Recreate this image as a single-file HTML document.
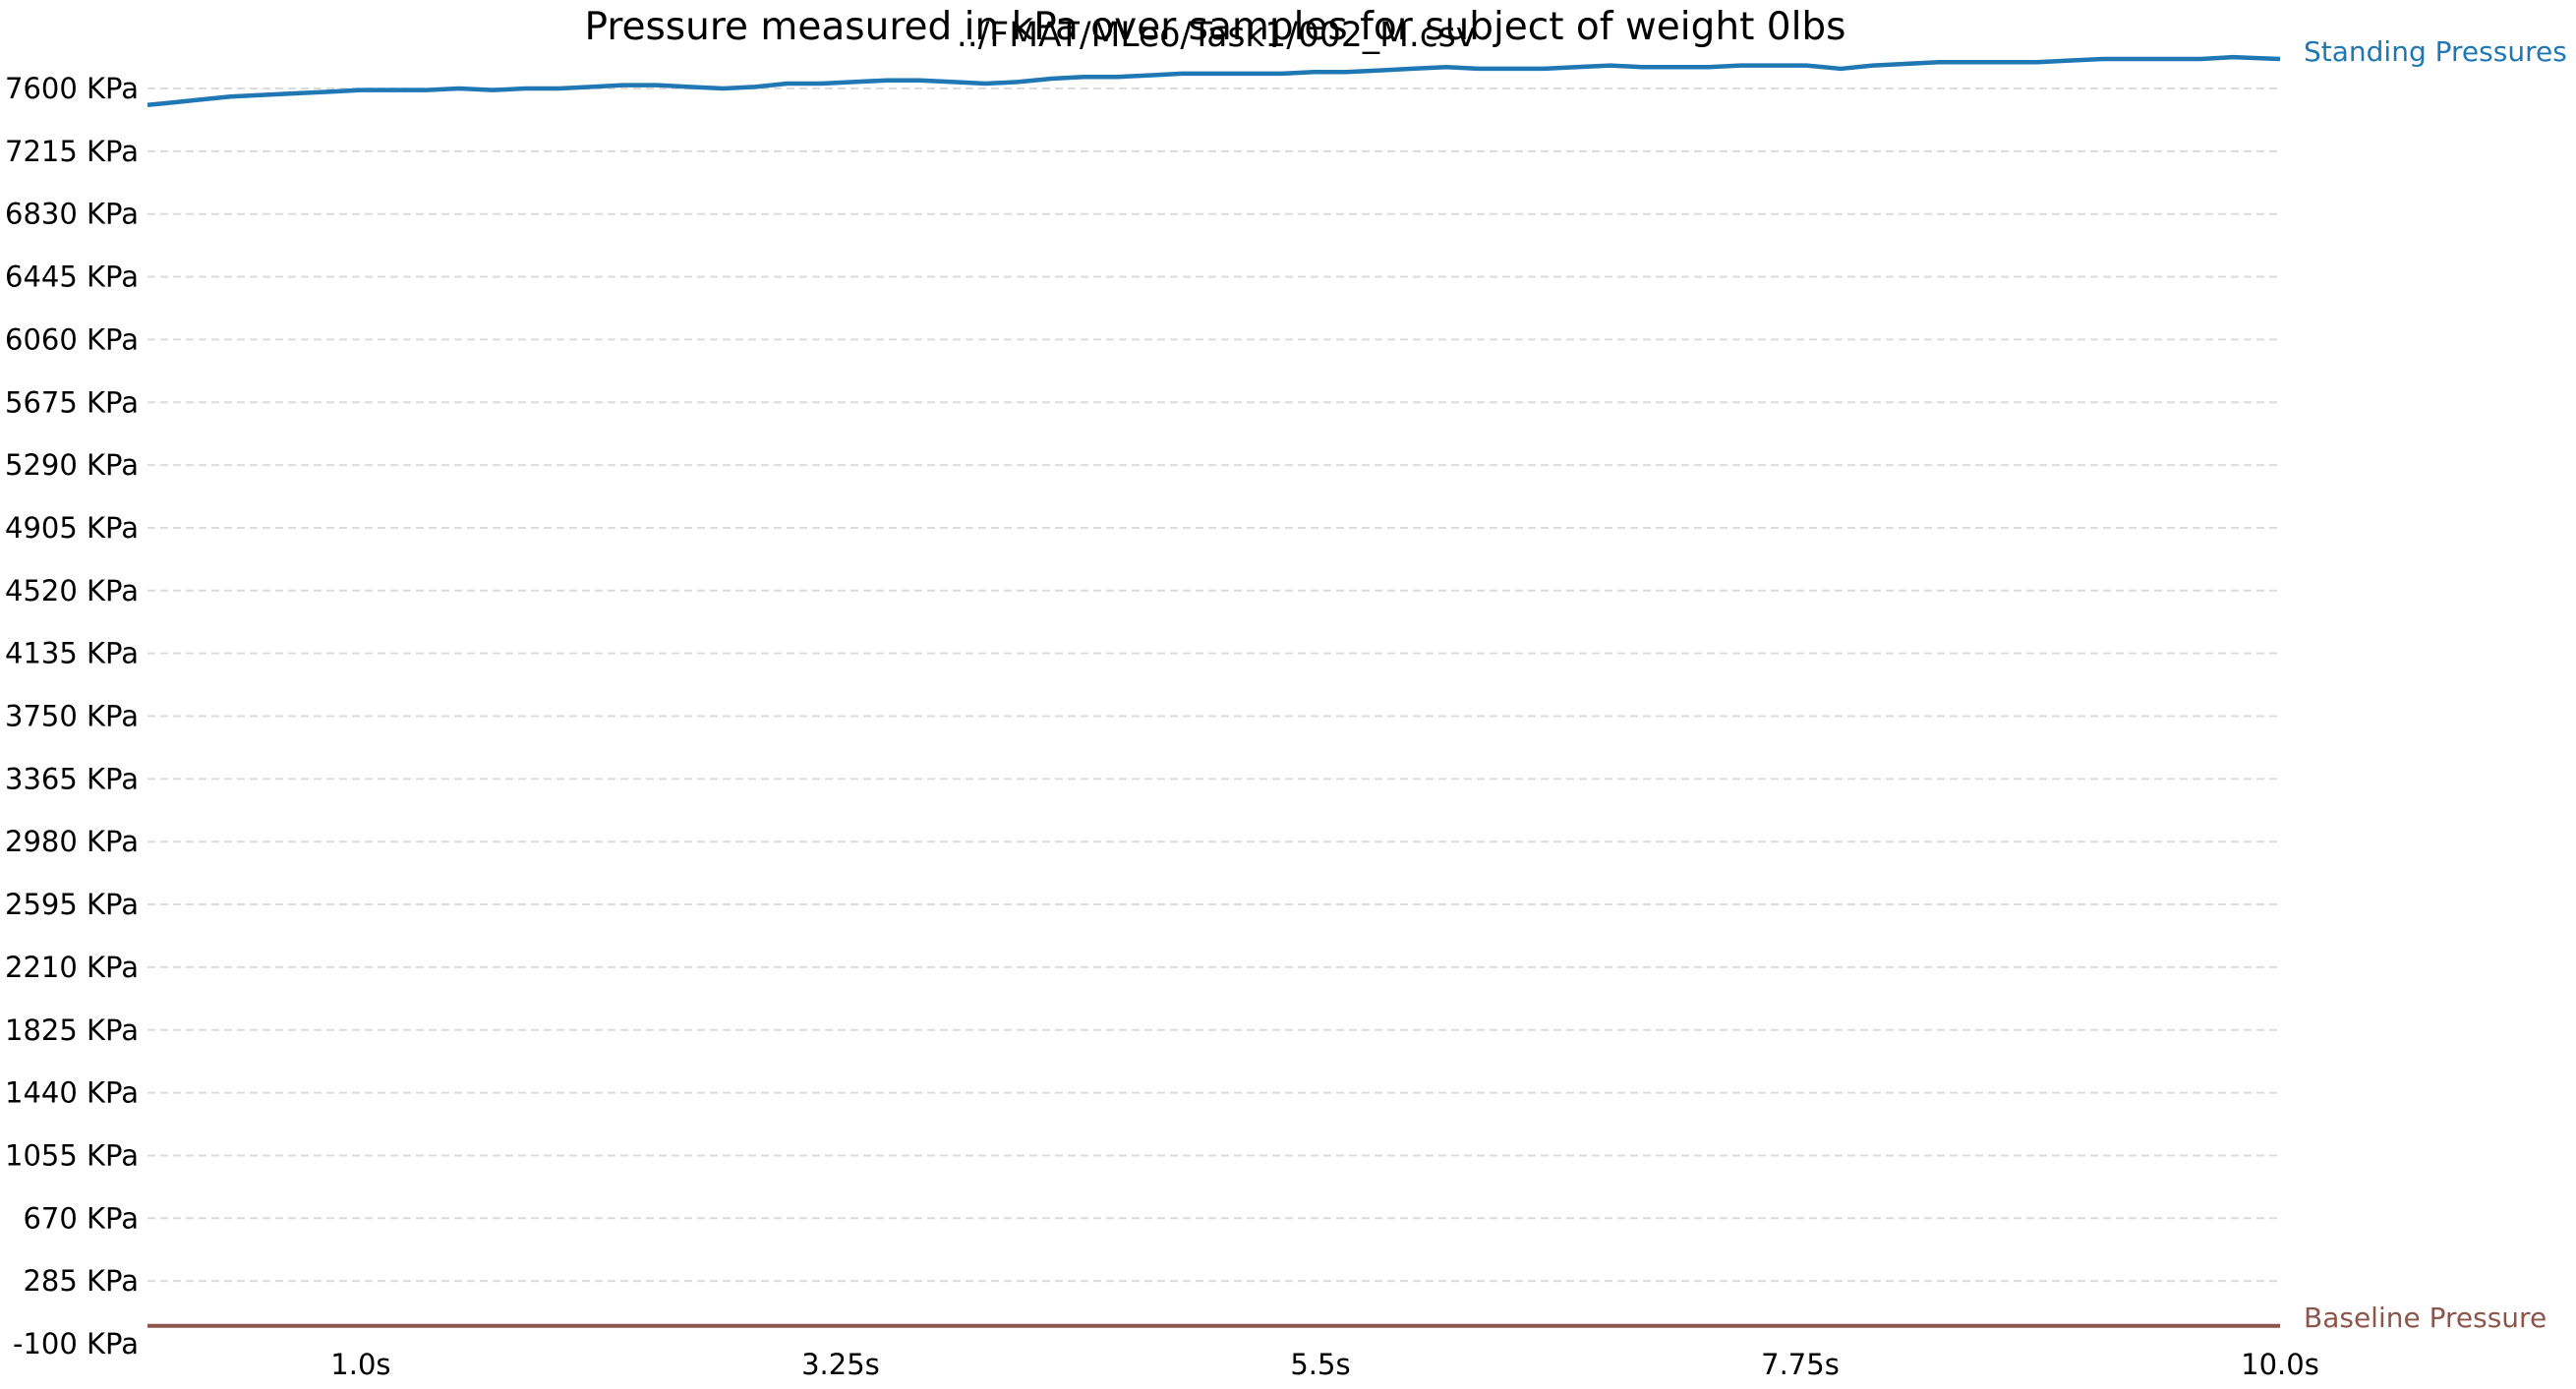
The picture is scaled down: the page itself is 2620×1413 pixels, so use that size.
<!DOCTYPE html>
<html><head><meta charset="utf-8"><style>
html,body{margin:0;padding:0;background:#fff;}
svg{display:block;font-family:"DejaVu Sans","Liberation Sans",sans-serif;}
</style></head><body>
<svg id="chart" width="2620" height="1413" viewBox="0 0 2620 1413" xmlns="http://www.w3.org/2000/svg">
<text x="1236" y="40" font-size="39" text-anchor="middle" fill="#000">Pressure measured in kPa over samples for subject of weight 0lbs</text>
<text x="1237" y="47" font-size="34.5" text-anchor="middle" fill="#000">../FMAT/MLeo/Task1/002_M.csv</text>
<g id="grid"></g><g id="yticks"></g><g id="xticks"></g><g id="series"></g>
</svg>
<script>
const yTickValues = [-100,285,670,1055,1440,1825,2210,2595,2980,3365,3750,4135,4520,4905,5290,5675,6060,6445,6830,7215,7600];
const xTickValues = [1.0,3.25,5.5,7.75,10.0];
const xTickLabels = ["1.0s","3.25s","5.5s","7.75s","10.0s"];
const standingTimes = [0,0.08,0.23,0.39,0.54,0.69,0.85,1.0,1.16,1.31,1.46,1.62,1.77,1.93,2.08,2.23,2.39,2.54,2.70,2.85,3.0,3.16,3.31,3.47,3.62,3.78,3.93,4.08,4.24,4.39,4.55,4.7,4.85,5.01,5.16,5.32,5.47,5.62,5.78,5.93,6.09,6.24,6.39,6.55,6.70,6.86,7.01,7.16,7.32,7.47,7.63,7.78,7.94,8.09,8.24,8.4,8.55,8.71,8.86,9.01,9.17,9.32,9.48,9.63,9.78,10.0];
const standingValues = [7499,7509,7529,7550,7560,7570,7580,7590,7590,7590,7600,7590,7600,7600,7610,7620,7620,7610,7600,7610,7630,7630,7640,7650,7650,7640,7630,7640,7660,7671,7671,7681,7691,7691,7691,7691,7701,7701,7711,7721,7731,7721,7721,7721,7731,7741,7731,7731,7731,7741,7741,7741,7721,7741,7751,7761,7761,7761,7761,7771,7781,7781,7781,7781,7792,7781];
const baselineTimes = [0,10];
const baselineValues = [10,10];

const X0=150,X1=2319,Y0=1367,Y1=90;
const xs=t=>X0+(t-0)/(10-0)*(X1-X0);
const ys=v=>Y0-(v-(-100))/(7600-(-100))*(Y0-Y1);
const NS="http://www.w3.org/2000/svg";
function mk(tag,attrs,parent){const e=document.createElementNS(NS,tag);for(const k in attrs)e.setAttribute(k,attrs[k]);parent.appendChild(e);return e;}
const grid=document.getElementById('grid'),yt=document.getElementById('yticks'),xt=document.getElementById('xticks'),ser=document.getElementById('series');
yTickValues.forEach(v=>{
  const y=ys(v);
  if(v!==-100){const l=mk('line',{x1:X0,x2:X1,y1:y,y2:y,stroke:'#dcdcdc','stroke-width':2,'stroke-dasharray':'8,5'},grid);
  
  }
  const t=mk('text',{x:141,y:y+10,'font-size':29,'text-anchor':'end',fill:'#000'},yt);
  t.textContent=v+' KPa';
  
  
});
xTickValues.forEach((v,i)=>{
  const t=mk('text',{x:xs(v),y:1398,'font-size':29,'text-anchor':'middle',fill:'#000'},xt);
  t.textContent=xTickLabels[i];
  
  
});
const bp=mk('polyline',{points:baselineTimes.map((t,i)=>xs(t)+','+ys(baselineValues[i])).join(' '),fill:'none',stroke:'#8c564b','stroke-width':4},ser);


const sp=mk('polyline',{points:standingTimes.map((t,i)=>xs(t)+','+ys(standingValues[i])).join(' '),fill:'none',stroke:'#1f77b4','stroke-width':4.5,'stroke-linejoin':'round'},ser);


const l1=mk('text',{x:2343,y:62,'font-size':28,fill:'#1f77b4'},ser);
l1.textContent='Standing Pressures';


const l2=mk('text',{x:2343,y:1350,'font-size':28,fill:'#8c564b'},ser);
l2.textContent='Baseline Pressure';


</script>
</body></html>
